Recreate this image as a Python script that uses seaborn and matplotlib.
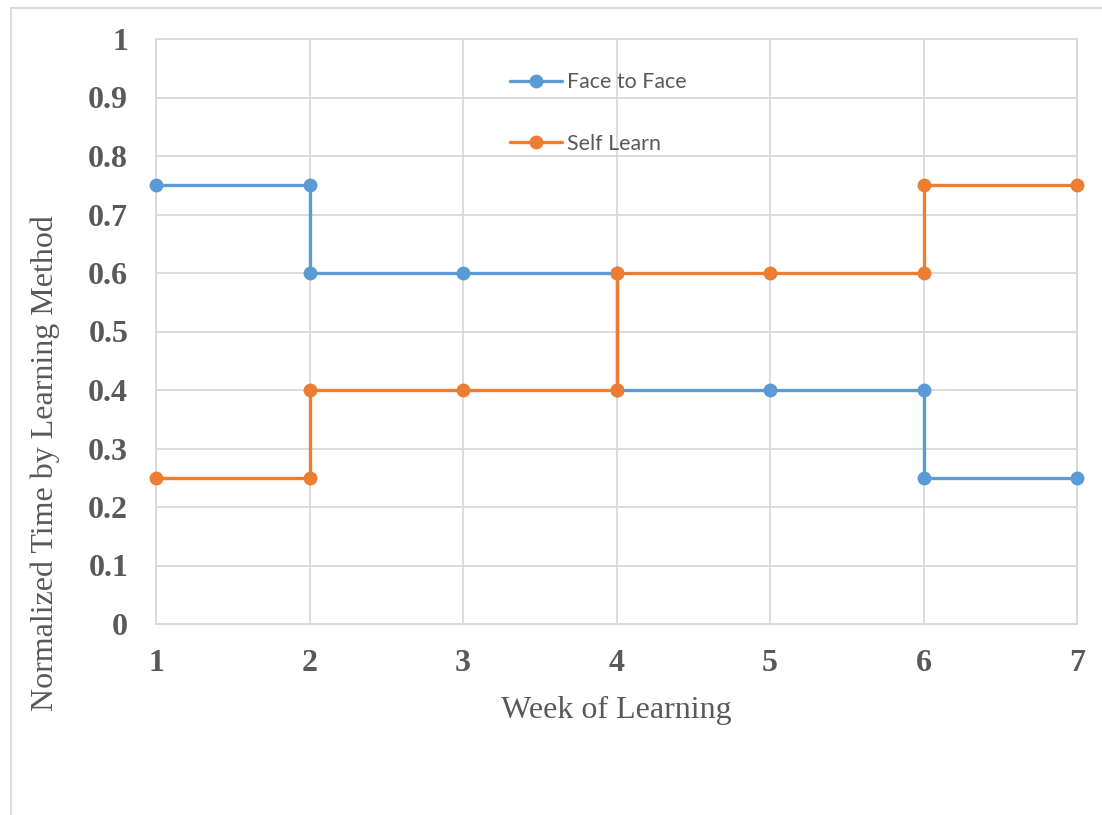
import matplotlib
matplotlib.use("Agg")
import matplotlib.pyplot as plt
from matplotlib.patches import Rectangle
import pandas as pd
import seaborn as sns

# Step-shaped series: each change of level has a point on both sides of the step
weeks_face = [1, 2, 2, 3, 4, 4, 5, 6, 6, 7]
face_to_face = [0.75, 0.75, 0.6, 0.6, 0.6, 0.4, 0.4, 0.4, 0.25, 0.25]
weeks_self = [1, 2, 2, 3, 4, 4, 5, 6, 6, 7]
self_learn = [0.25, 0.25, 0.4, 0.4, 0.4, 0.6, 0.6, 0.6, 0.75, 0.75]

series_names = ["Face to Face", "Self Learn"]
series_colors = ["#5B9BD5", "#ED7D31"]
x_ticks = [1, 2, 3, 4, 5, 6, 7]
y_ticks = [0, 0.1, 0.2, 0.3, 0.4, 0.5, 0.6, 0.7, 0.8, 0.9, 1]
y_tick_labels = ["0", "0.1", "0.2", "0.3", "0.4", "0.5", "0.6", "0.7", "0.8", "0.9", "1"]

df = pd.concat([
    pd.DataFrame({"week": weeks_face, "value": face_to_face, "method": series_names[0]}),
    pd.DataFrame({"week": weeks_self, "value": self_learn, "method": series_names[1]}),
], ignore_index=True)

sns.set_theme(style="white")
W, H = 1102, 815
fig = plt.figure(figsize=(W / 100, H / 100), dpi=100)
ax = fig.add_axes([156 / W, 1 - 624 / H, (1077 - 156) / W, (624 - 39) / H])

grid_color = "#D9D9D9"
text_color = "#595959"

sns.lineplot(data=df, x="week", y="value", hue="method", hue_order=series_names,
             palette=series_colors, sort=False, estimator=None, units="method",
             marker="o", markersize=10, markeredgewidth=0, linewidth=2.4,
             ax=ax, zorder=3, clip_on=False)

ax.set_xlim(1, 7)
ax.set_ylim(0, 1)
ax.set_xticks(x_ticks)
ax.set_xticklabels([str(t) for t in x_ticks])
ax.set_yticks(y_ticks)
ax.set_yticklabels(y_tick_labels)
ax.grid(True, color=grid_color, linewidth=1.3)
ax.set_axisbelow(True)
for sp in ax.spines.values():
    sp.set_color(grid_color)
    sp.set_linewidth(1.3)

ax.tick_params(axis="both", length=0, colors=text_color)
ax.tick_params(axis="y", pad=20)
ax.tick_params(axis="x", pad=18)
for lab in ax.get_xticklabels() + ax.get_yticklabels():
    lab.set_fontfamily("Liberation Serif")
    lab.set_fontweight("bold")
    lab.set_fontsize(23)
    lab.set_color(text_color)

ax.set_xlabel("Week of Learning", fontfamily="Liberation Serif", fontsize=23,
              color=text_color, labelpad=13)
ax.set_ylabel("Normalized Time by Learning Method", fontfamily="Liberation Serif",
              fontsize=23, color=text_color)
ax.yaxis.set_label_coords(-0.1205, 0.275)
ax.yaxis.label.set_va("center")

leg = ax.legend(loc="upper left", bbox_to_anchor=((510 - 156) / 921, (624 - 72) / 585),
                frameon=False, borderaxespad=0, borderpad=0, labelspacing=1.95,
                handlelength=2.45, handletextpad=0.22,
                prop={"family": "Lato", "size": 15.4})
for t in leg.get_texts():
    t.set_color(text_color)

# light frame around the chart
fig.add_artist(Rectangle((11 / W, -0.1), 1.2, 1 - 8 / H + 0.1, transform=fig.transFigure,
                         fill=False, edgecolor=grid_color, linewidth=1.3))

fig.savefig("out.png", dpi=100)
